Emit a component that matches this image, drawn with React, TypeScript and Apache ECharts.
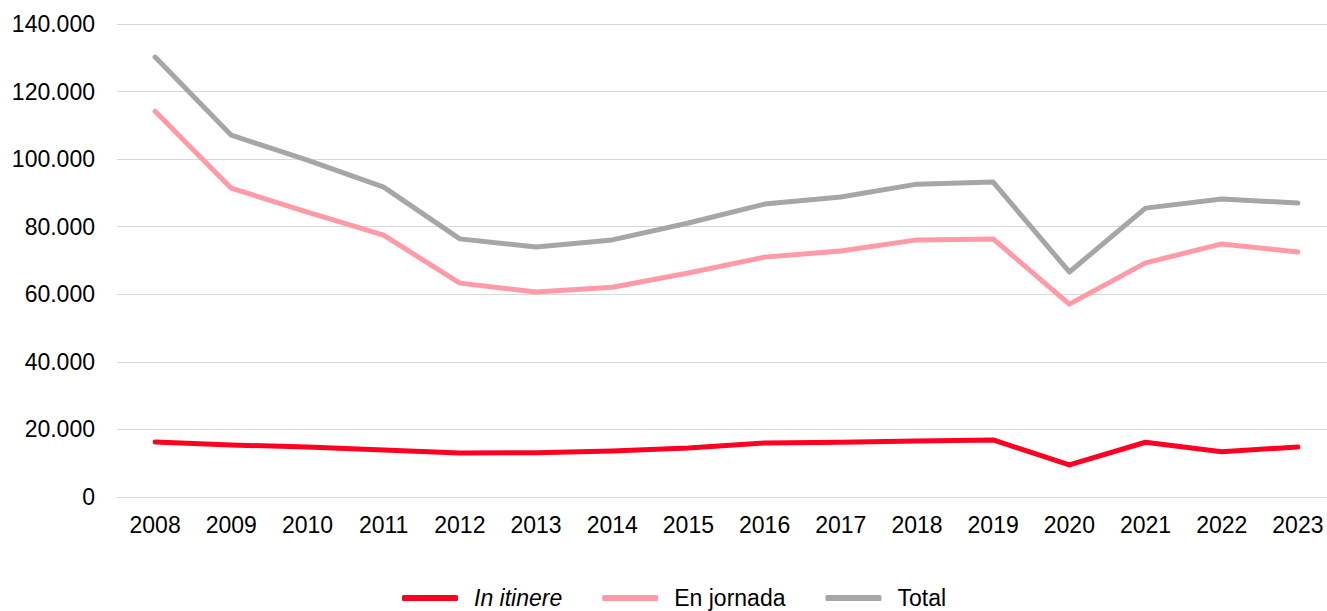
import React, { useEffect, useRef } from "react";
import * as echarts from "echarts";

const years = ["2008","2009","2010","2011","2012","2013","2014","2015","2016","2017","2018","2019","2020","2021","2022","2023"];
const inItinere = [16300,15400,14800,13900,13000,13100,13600,14500,16000,16200,16600,16900,9500,16200,13400,14800];
const enJornada = [114200,91400,84300,77500,63300,60700,62100,66300,71000,72800,76100,76400,57100,69300,74900,72500];
const total = [130200,107100,99700,91700,76400,74000,76100,81100,86700,88800,92600,93200,66600,85500,88200,87000];

const FONT = "'Liberation Sans', Arial, sans-serif";

export default function App() {
  const ref = useRef<HTMLDivElement>(null);
  useEffect(() => {
    const chart = echarts.init(ref.current!, null, { renderer: "svg" });
    const mk = (name: string, data: number[], color: string) => ({
      name,
      type: "line",
      data,
      symbol: "none",
      lineStyle: { color, width: 5, cap: "round", join: "round" },
      itemStyle: { color },
    });
    chart.setOption({
      animation: false,
      grid: { left: 117, right: 4, top: 24, bottom: 114 },
      xAxis: {
        type: "category",
        data: years,
        boundaryGap: true,
        axisLine: { lineStyle: { color: "#d9d9d9", width: 1 } },
        axisTick: { alignWithLabel: true, length: 5, lineStyle: { color: "#d9d9d9" } },
        axisLabel: { color: "#000", fontFamily: FONT, fontSize: 23, margin: 16 },
      },
      yAxis: {
        type: "value",
        min: 0,
        max: 140000,
        interval: 20000,
        axisLine: { show: false },
        axisTick: { show: false },
        splitLine: { lineStyle: { color: "#d9d9d9", width: 1 } },
        axisLabel: {
          color: "#000",
          fontFamily: FONT,
          fontSize: 23,
          margin: 22,
          formatter: (v: number) => (v === 0 ? "0" : `${v / 1000}.000`),
        },
      },
      legend: {
        left: 402,
        top: 585,
        padding: 0,
        itemWidth: 56,
        itemHeight: 6,
        itemGap: 40,
        icon: "roundRect",
        data: ["In itinere", "En jornada", "Total"],
        formatter: (name: string) => (name === "In itinere" ? "{i|In itinere}" : name),
        textStyle: {
          color: "#000",
          fontFamily: FONT,
          fontSize: 23,
          lineHeight: 26,
          padding: [0, 0, 0, 11],
          rich: { i: { fontStyle: "italic", fontFamily: FONT, fontSize: 23, lineHeight: 26, color: "#000" } },
        },
      },
      series: [
        mk("In itinere", inItinere, "#ff0022"),
        mk("En jornada", enJornada, "#ff9aa6"),
        mk("Total", total, "#a6a6a6"),
      ],
    });
    return () => chart.dispose();
  }, []);
  return (
    <div style={{ position: "absolute", left: 0, top: 0, width: 1327, height: 611, overflow: "hidden", background: "#fff" }}>
      <div ref={ref} style={{ width: 1340, height: 611 }} />
    </div>
  );
}
